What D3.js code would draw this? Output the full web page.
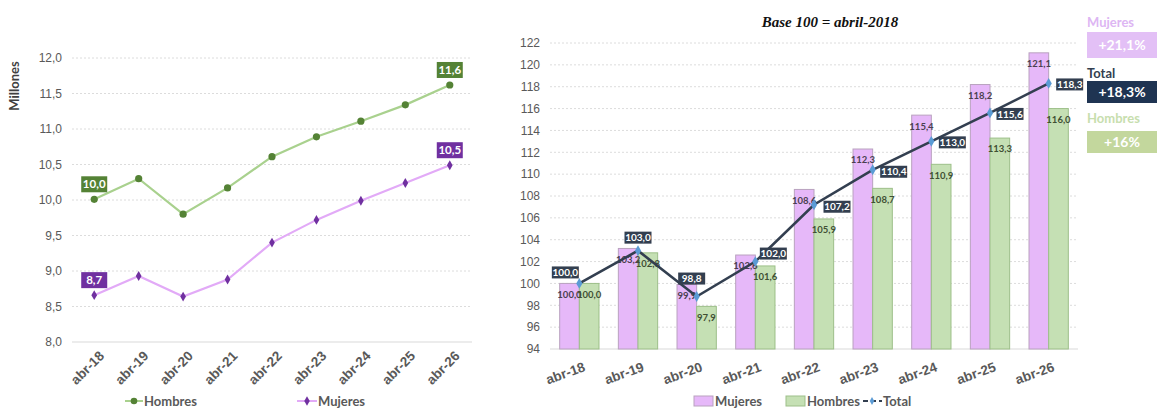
<!DOCTYPE html>
<html><head><meta charset="utf-8">
<script src="https://cdn.jsdelivr.net/npm/d3@7/dist/d3.min.js"></script>
<style>body{margin:0;background:#fff;} svg{display:block;font-family:Lato, "Open Sans", sans-serif;}</style>
</head><body>
<svg id="c" width="1157" height="409"></svg>
<script>
const categories = ["abr-18","abr-19","abr-20","abr-21","abr-22","abr-23","abr-24","abr-25","abr-26"];
const hombresM = [10.01,10.30,9.80,10.17,10.61,10.89,11.11,11.34,11.62];
const mujeresM = [8.66,8.93,8.64,8.88,9.40,9.72,9.99,10.24,10.49];
const leftTicks = [8.0,8.5,9.0,9.5,10.0,10.5,11.0,11.5,12.0];
const mujeresIdx = [100.0,103.2,99.9,102.6,108.6,112.3,115.4,118.2,121.1];
const hombresIdx = [100.0,102.8,97.9,101.6,105.9,108.7,110.9,113.3,116.0];
const totalIdx = [100.0,103.0,98.8,102.0,107.2,110.4,113.0,115.6,118.3];
const rightTicks = [94,96,98,100,102,104,106,108,110,112,114,116,118,120,122];
const summary = [
  {name:"Mujeres", value:"+21,1%"},
  {name:"Total", value:"+18,3%"},
  {name:"Hombres", value:"+16%"}
];

const svg = d3.select("#c");
const fmt = v => d3.format(".1f")(v).replace(".", ",");
const axisCol = "#595959";

// ---------- LEFT CHART ----------
const L = svg.append("g");
const xL = d3.scaleBand().domain(categories).range([72,472]);
const yL = d3.scaleLinear().domain([8,12]).range([342,58]);
L.append("g").selectAll("line").data(leftTicks).join("line")
  .attr("x1",72).attr("x2",472).attr("y1",d=>yL(d)).attr("y2",d=>yL(d))
  .attr("stroke",d=>d===8?"#d9d9d9":"#dcdcdc").attr("stroke-dasharray",d=>d===8?null:"2,2");
const yAxL = L.append("g").attr("transform","translate(66,0)")
  .call(d3.axisLeft(yL).tickValues(leftTicks).tickFormat(d=>d3.format(".1f")(d).replace(".",",")).tickSize(0));
yAxL.select(".domain").remove();
yAxL.selectAll("text").attr("fill",axisCol).style("font-size","12px").attr("x",-4);
L.append("text").attr("transform","translate(19,86) rotate(-90)").attr("text-anchor","middle")
  .attr("fill","#404040").style("font-size","13px").style("font-weight","bold").text("Millones");
const xAxL = L.append("g").attr("transform","translate(0,342)").call(d3.axisBottom(xL).tickSize(0));
xAxL.select(".domain").remove();
xAxL.selectAll("text").attr("fill",axisCol).style("font-size","13.5px").style("font-weight","bold")
  .attr("text-anchor","end").attr("transform","translate(6,10) rotate(-45)").attr("dy","0.5em").attr("y",0);

const lineL = d3.line().x((d,i)=>xL(categories[i])+xL.bandwidth()/2).y(d=>yL(d));
L.append("path").datum(hombresM).attr("d",lineL).attr("fill","none").attr("stroke","#A9D18E").attr("stroke-width",2.2);
L.append("path").datum(mujeresM).attr("d",lineL).attr("fill","none").attr("stroke","#E2AAF7").attr("stroke-width",2.2);
L.append("g").selectAll("circle").data(hombresM).join("circle")
  .attr("cx",(d,i)=>xL(categories[i])+xL.bandwidth()/2).attr("cy",d=>yL(d)).attr("r",3.6).attr("fill","#548235");
L.append("g").selectAll("path").data(mujeresM).join("path")
  .attr("transform",(d,i)=>`translate(${xL(categories[i])+xL.bandwidth()/2},${yL(d)})`)
  .attr("d",d3.symbol(d3.symbolDiamond,28)).attr("fill","#7030A0");
function boxLabel(g, cx, cy, txt, fill, fs, w, h){
  g.append("rect").attr("x",cx-w/2).attr("y",cy-h/2).attr("width",w).attr("height",h).attr("fill",fill);
  g.append("text").attr("x",cx).attr("y",cy).attr("dy","0.36em").attr("text-anchor","middle")
    .attr("fill","#fff").style("font-size",fs+"px").style("font-weight","bold").text(txt);
}
[0,8].forEach(i=>{
  const cx = xL(categories[i])+xL.bandwidth()/2;
  boxLabel(L, cx, yL(hombresM[i])-15, fmt(hombresM[i]), "#548235", 11.5, 26, 16);
  boxLabel(L, cx, yL(mujeresM[i])-15, fmt(mujeresM[i]), "#7030A0", 11.5, 26, 16);
});
// legend left
const lg = L.append("g").attr("transform","translate(0,401)");
lg.append("line").attr("x1",125).attr("x2",143).attr("y1",0).attr("y2",0).attr("stroke","#A9D18E").attr("stroke-width",2);
lg.append("circle").attr("cx",134).attr("cy",0).attr("r",3.3).attr("fill","#548235");
lg.append("text").attr("x",144).attr("y",0).attr("dy","0.36em").attr("fill",axisCol).style("font-size","13px").style("font-weight","bold").text("Hombres");
lg.append("line").attr("x1",297).attr("x2",317).attr("y1",0).attr("y2",0).attr("stroke","#E2AAF7").attr("stroke-width",2);
lg.append("path").attr("transform","translate(307,0)").attr("d",d3.symbol(d3.symbolDiamond,26)).attr("fill","#7030A0");
lg.append("text").attr("x",318).attr("y",0).attr("dy","0.36em").attr("fill",axisCol).style("font-size","13px").style("font-weight","bold").text("Mujeres");

// ---------- RIGHT CHART ----------
const R = svg.append("g");
const xR = d3.scaleBand().domain(categories).range([550,1078]).paddingInner(0.33).paddingOuter(0.165);
const xS = d3.scaleBand().domain(["m","h"]).range([0,xR.bandwidth()]);
const yR = d3.scaleLinear().domain([94,122]).range([349,43]);
R.append("g").selectAll("line").data(rightTicks).join("line")
  .attr("x1",550).attr("x2",1078).attr("y1",d=>yR(d)).attr("y2",d=>yR(d))
  .attr("stroke",d=>d===94?"#d9d9d9":"#dcdcdc").attr("stroke-dasharray",d=>d===94?null:"2,2");
const yAxR = R.append("g").attr("transform","translate(544,0)")
  .call(d3.axisLeft(yR).tickValues(rightTicks).tickSize(0));
yAxR.select(".domain").remove();
yAxR.selectAll("text").attr("fill",axisCol).style("font-size","12px").attr("x",-4);
const xAxR = R.append("g").attr("transform","translate(0,349)").call(d3.axisBottom(xR).tickSize(0));
xAxR.select(".domain").remove();
xAxR.selectAll("text").attr("fill",axisCol).style("font-size","13.5px").style("font-weight","bold")
  .attr("text-anchor","end").attr("transform","translate(4,14) rotate(-20)").attr("dy","0.6em").attr("y",0);

R.append("text").attr("x",830).attr("y",27).attr("text-anchor","middle")
  .style("font-family","'Liberation Serif', 'DejaVu Serif', serif").style("font-size","15px")
  .style("font-weight","bold").style("font-style","italic").attr("fill","#111").text("Base 100 = abril-2018");

const barG = R.append("g");
categories.forEach((c,i)=>{
  const x0 = xR(c);
  barG.append("rect").attr("x",x0+xS("m")).attr("y",yR(mujeresIdx[i])).attr("width",xS.bandwidth())
    .attr("height",yR(94)-yR(mujeresIdx[i])).attr("fill","#E6B8F9").attr("stroke","#B9A2BF").attr("stroke-width",1);
  barG.append("rect").attr("x",x0+xS("h")).attr("y",yR(hombresIdx[i])).attr("width",xS.bandwidth())
    .attr("height",yR(94)-yR(hombresIdx[i])).attr("fill","#C5E0B4").attr("stroke","#9DBF89").attr("stroke-width",1);
  barG.append("text").attr("x",x0+xS("m")+xS.bandwidth()/2).attr("y",yR(mujeresIdx[i])+11).attr("dy","0.36em")
    .attr("text-anchor","middle").attr("fill","#4a3f50").style("font-size","9.5px").style("font-weight","bold").text(fmt(mujeresIdx[i]));
  barG.append("text").attr("x",x0+xS("h")+xS.bandwidth()/2).attr("y",yR(hombresIdx[i])+11).attr("dy","0.36em")
    .attr("text-anchor","middle").attr("fill","#3f4f33").style("font-size","9.5px").style("font-weight","bold").text(fmt(hombresIdx[i]));
});
const cxR = i => xR(categories[i])+xR.bandwidth()/2;
R.append("path").datum(totalIdx).attr("d",d3.line().x((d,i)=>cxR(i)).y(d=>yR(d)))
  .attr("fill","none").attr("stroke","#333F50").attr("stroke-width",2.6);
R.append("g").selectAll("path").data(totalIdx).join("path")
  .attr("transform",(d,i)=>`translate(${cxR(i)},${yR(d)})`)
  .attr("d",d3.symbol(d3.symbolDiamond,34)).attr("fill","#5B9BD5");
const totOff = [[-14,-11],[0,-13],[-5,-18],[18,-8],[23,2],[21,2],[21,1],[20,1],[21,1]];
totalIdx.forEach((v,i)=>{
  boxLabel(R, cxR(i)+totOff[i][0], yR(v)+totOff[i][1], fmt(v), "#333F50", 10, 27, 12);
});
// legend bottom right
const lr = R.append("g").attr("transform","translate(0,401)");
lr.append("rect").attr("x",694).attr("y",-5).attr("width",19).attr("height",10).attr("fill","#E6B8F9").attr("stroke","#B9A2BF");
lr.append("text").attr("x",715).attr("y",0).attr("dy","0.36em").attr("fill",axisCol).style("font-size","13px").style("font-weight","bold").text("Mujeres");
lr.append("rect").attr("x",786).attr("y",-5).attr("width",19).attr("height",10).attr("fill","#C5E0B4").attr("stroke","#9DBF89");
lr.append("text").attr("x",807).attr("y",0).attr("dy","0.36em").attr("fill",axisCol).style("font-size","13px").style("font-weight","bold").text("Hombres");
lr.append("line").attr("x1",863).attr("x2",882).attr("y1",0).attr("y2",0).attr("stroke","#333F50").attr("stroke-width",2).attr("stroke-dasharray","5,3");
lr.append("path").attr("transform","translate(872,0)").attr("d",d3.symbol(d3.symbolDiamond,18)).attr("fill","#5B9BD5");
lr.append("text").attr("x",883).attr("y",0).attr("dy","0.36em").attr("fill",axisCol).style("font-size","13px").style("font-weight","bold").text("Total");

// summary boxes
const sumStyle = {
  "Mujeres": {tc:"#DDB6F3", bf:"#E3C0F6", ty:22, by:32, bh:26},
  "Total": {tc:"#333F50", bf:"#1F3452", ty:73, by:81, bh:22},
  "Hombres": {tc:"#C7DEAE", bf:"#C3D79D", ty:118, by:131, bh:22}
};
summary.forEach(s=>{
  const st = sumStyle[s.name];
  svg.append("text").attr("x",1087).attr("y",st.ty).attr("dy","0.36em").attr("fill",st.tc)
    .style("font-size","13px").style("font-weight","bold").text(s.name);
  svg.append("rect").attr("x",1087).attr("y",st.by).attr("width",72).attr("height",st.bh).attr("fill",st.bf);
  svg.append("text").attr("x",1122).attr("y",st.by+st.bh/2).attr("dy","0.36em").attr("text-anchor","middle")
    .attr("fill","#fff").style("font-size","14px").style("font-weight","bold").text(s.value);
});
</script>
</body></html>
